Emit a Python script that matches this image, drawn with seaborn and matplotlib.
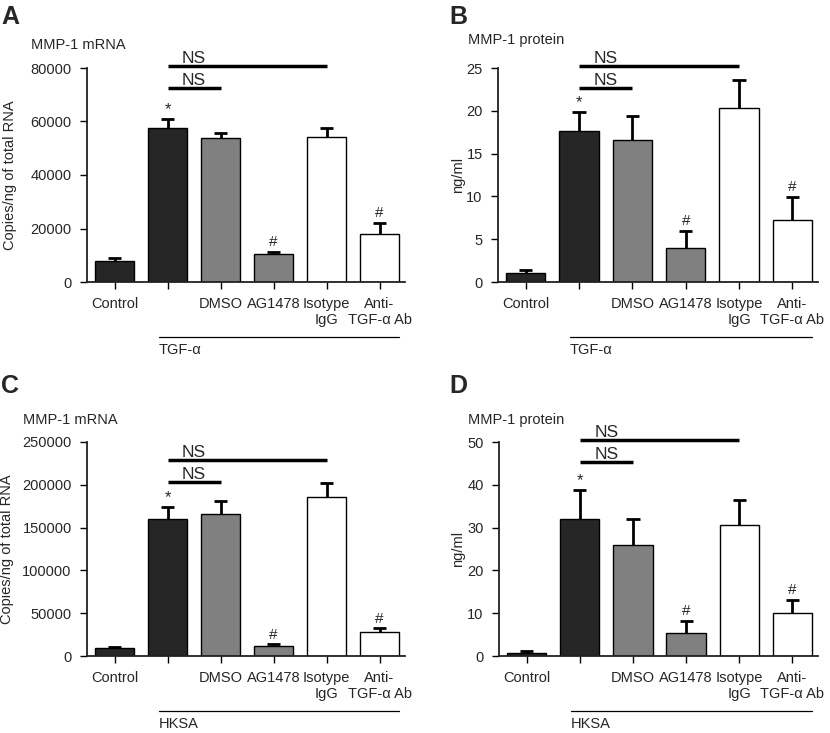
import numpy as np
import pandas as pd
import seaborn as sns
import matplotlib.pyplot as plt
import matplotlib.transforms as mtransforms

sns.set_style("ticks")
plt.rcParams['font.family'] = ['Liberation Sans', 'DejaVu Sans']

categories = ["Control", "TGF", "DMSO", "AG1478", "Isotype IgG", "Anti-TGF-a Ab"]
tick_labels = ["Control", "", "DMSO", "AG1478", "Isotype\nIgG", "Anti-\nTGF-\u03b1 Ab"]
bar_colors = ["#262626", "#262626", "#808080", "#808080", "#ffffff", "#ffffff"]

# A: MMP-1 mRNA after TGF-alpha
mrna_tgf = [8000, 57700, 54000, 10300, 54300, 18000]
mrna_tgf_err = [850, 3300, 1800, 900, 3400, 4100]
# B: MMP-1 protein after TGF-alpha
prot_tgf = [1.0, 17.6, 16.55, 4.0, 20.3, 7.3]
prot_tgf_err = [0.45, 2.3, 2.85, 1.95, 3.25, 2.65]
# C: MMP-1 mRNA after HKSA
mrna_hksa = [8900, 160200, 165600, 12000, 185500, 27600]
mrna_hksa_err = [2000, 14000, 16000, 1600, 17100, 4700]
# D: MMP-1 protein after HKSA
prot_hksa = [0.8, 32.0, 25.9, 5.45, 30.5, 9.95]
prot_hksa_err = [0.45, 6.9, 6.2, 2.8, 5.9, 3.1]

panels = [
    dict(letter="A", title="MMP-1 mRNA", ylabel="Copies/ng of total RNA", group="TGF-\u03b1",
         vals=mrna_tgf, errs=mrna_tgf_err, ymax=80000, step=20000, ns=[80600, 72650]),
    dict(letter="B", title="MMP-1 protein", ylabel="ng/ml", group="TGF-\u03b1",
         vals=prot_tgf, errs=prot_tgf_err, ymax=25, step=5, ns=[25.2, 22.65]),
    dict(letter="C", title="MMP-1 mRNA", ylabel="Copies/ng of total RNA", group="HKSA",
         vals=mrna_hksa, errs=mrna_hksa_err, ymax=250000, step=50000, ns=[229000, 203700]),
    dict(letter="D", title="MMP-1 protein", ylabel="ng/ml", group="HKSA",
         vals=prot_hksa, errs=prot_hksa_err, ymax=50, step=10, ns=[50.4, 45.3]),
]

W, H = 830, 733
fig = plt.figure(figsize=(8.3, 7.33), dpi=100)

# pixel boxes: (left, top, right, bottom)
boxes = [(87, 68, 405, 282), (498, 68, 818, 282), (87, 442, 405, 656), (499, 442, 818, 656)]
title_pos = [(31, 45), (468, 40), (23, 420), (468, 420)]
letter_pos = [(1, 17), (449, 17), (1, 386), (449, 386)]
ylab_x = [-0.243, -0.126, -0.25, -0.128]

for i, p in enumerate(panels):
    l, t, r, b = boxes[i]
    ax = fig.add_axes([l / W, 1 - b / H, (r - l) / W, (b - t) / H])
    df = pd.DataFrame({"cond": categories, "value": p["vals"], "err": p["errs"]})
    xs = np.arange(len(categories))
    tops = df["value"] + df["err"]
    # upper-only error bars, drawn behind the bars
    ax.vlines(xs, df["value"], tops, color="black", lw=2.0, zorder=1)
    ax.hlines(tops, xs - 0.125, xs + 0.125, color="black", lw=2.0, zorder=1)
    sns.barplot(data=df, x="cond", y="value", hue="cond", palette=bar_colors,
                width=0.74, edgecolor="black", linewidth=1.0, legend=False, ax=ax, zorder=2)
    ax.set_xlim(-0.52, 5.48)
    ax.set_ylim(0, p["ymax"])
    yt = np.arange(0, p["ymax"] + p["step"] / 2, p["step"])
    ax.set_yticks(yt)
    ax.set_yticklabels([f"{v:g}" for v in yt])
    ax.set_xticks(xs)
    ax.set_xticklabels(tick_labels)
    ax.tick_params(axis="both", labelsize=10.5, length=5, width=1.0, color="black")
    ax.tick_params(axis="x", pad=6)
    ax.tick_params(axis="y", pad=6)
    ax.set_xlabel("")
    ax.set_ylabel(p["ylabel"], fontsize=10.5, va="center")
    ax.yaxis.set_label_coords(ylab_x[i], 0.5)
    sns.despine(ax=ax)
    for s in ["left", "bottom"]:
        ax.spines[s].set_linewidth(1.3)
        ax.spines[s].set_color("#222222")

    # significance markers
    ax.annotate("*", (1, tops[1]), xytext=(0, 1), textcoords="offset points",
                ha="center", va="bottom", fontsize=12)
    for k in [3, 5]:
        ax.annotate("#", (k, tops[k]), xytext=(0, 2), textcoords="offset points",
                    ha="center", va="bottom", fontsize=11)

    # NS comparison bars
    ax.plot([1, 4], [p["ns"][0]] * 2, color="black", lw=2.5, clip_on=False, solid_capstyle="butt")
    ax.plot([1, 2], [p["ns"][1]] * 2, color="black", lw=2.5, clip_on=False, solid_capstyle="butt")
    for y in p["ns"]:
        ax.annotate("NS", (1.5, y), xytext=(0, 0), textcoords="offset points",
                    ha="center", va="bottom", fontsize=12.5, annotation_clip=False)

    # treatment group line below labels
    trans = mtransforms.blended_transform_factory(ax.transData, ax.transAxes)
    ax.plot([0.83, 5.36], [-0.257, -0.257], color="black", lw=0.9, transform=trans, clip_on=False)
    ax.text(0.83, -0.318, p["group"], transform=trans, ha="left", va="center", fontsize=10.5)

    fig.text(title_pos[i][0] / W, 1 - title_pos[i][1] / H, p["title"], ha="left", va="center", fontsize=10.5)
    fig.text(letter_pos[i][0] / W, 1 - letter_pos[i][1] / H, p["letter"], ha="left", va="center",
             fontsize=18, fontweight="bold")

fig.savefig("out.png", dpi=100)
